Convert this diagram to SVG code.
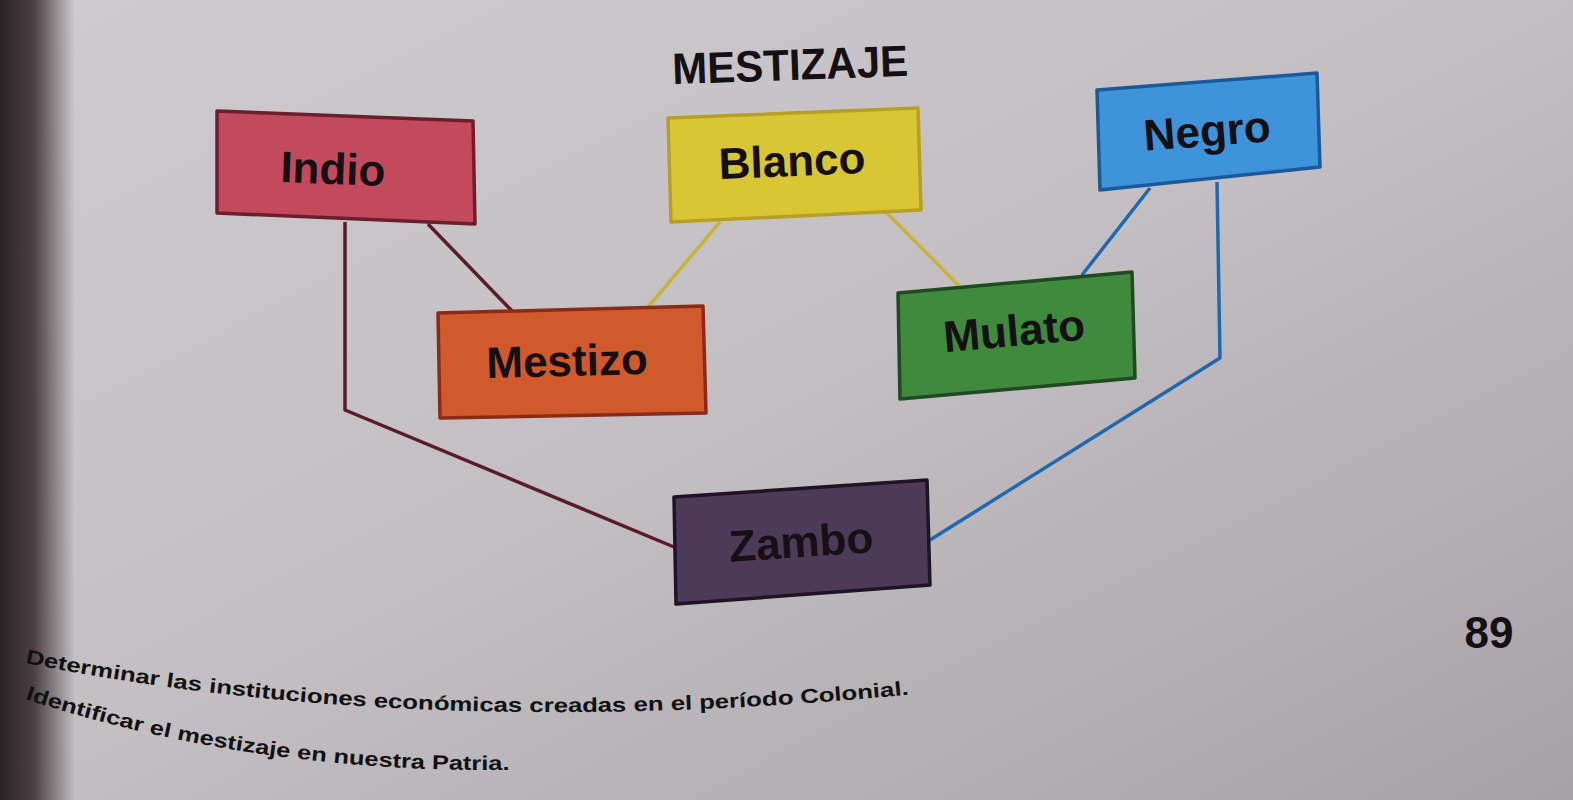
<svg xmlns="http://www.w3.org/2000/svg" width="1573" height="800" viewBox="0 0 1573 800">
<defs>
<linearGradient id="bg" x1="0" y1="0" x2="1" y2="1">
<stop offset="0" stop-color="#cfcccf"/>
<stop offset="0.5" stop-color="#c2bec1"/>
<stop offset="1" stop-color="#a7a2a5"/>
</linearGradient>
<linearGradient id="spine" x1="0" y1="0" x2="1" y2="0">
<stop offset="0" stop-color="#2a2325"/>
<stop offset="0.45" stop-color="#4a4044"/>
<stop offset="1" stop-color="#4a4044" stop-opacity="0"/>
</linearGradient>
<path id="l1" d="M 25 663 Q 420 742 915 694"/>
<path id="l2" d="M 25 699 Q 250 773 515 770"/>
</defs>
<style>
.box{stroke-width:3.5;stroke-linejoin:round}
.lbl{font-family:"Liberation Sans",Arial,sans-serif;font-weight:bold;font-size:44px;fill:#141014;text-anchor:middle}
.con{fill:none;stroke-width:3.5;stroke-linejoin:round}
.foot{font-family:"Liberation Sans",Arial,sans-serif;font-weight:bold;font-size:20px;fill:#111}
</style>
<rect width="1573" height="800" fill="url(#bg)"/>
<rect x="0" y="0" width="75" height="800" fill="url(#spine)"/>
<text x="790" y="80" class="lbl" font-size="48" textLength="236" lengthAdjust="spacingAndGlyphs" transform="rotate(-2 790 62)">MESTIZAJE</text>
<g id="connectors">
<path class="con" stroke="#5c1b2a" d="M428 224 L513 312"/>
<path class="con" stroke="#c9b43a" d="M720 222 L648 307"/>
<path class="con" stroke="#c9b43a" d="M886 212 L963 290"/>
<path class="con" stroke="#1e6ab0" d="M1150 188 L1082 275"/>
<path class="con" stroke="#5c1b2a" d="M345 222 L345 410 L674 547"/>
<path class="con" stroke="#1e6ab0" d="M1217 182 L1220 358 L930 540"/>
</g>
<g id="indio">
<polygon class="box" fill="#c24a5c" stroke="#6a1f2d" points="217,111 473,121 475,224 217,213"/>
<text class="lbl" x="333" y="184" transform="rotate(2.2 333 168)">Indio</text>
</g>
<g id="blanco">
<polygon class="box" fill="#d9c634" stroke="#b89f24" points="668,118 918,108 921,210 671,222"/>
<text class="lbl" x="792" y="176" font-size="42" transform="rotate(-2.3 792 160)">Blanco</text>
</g>
<g id="negro">
<polygon class="box" fill="#3f93d9" stroke="#1a5a9a" points="1097,90 1317,73 1320,167 1100,190"/>
<text class="lbl" x="1207" y="146" font-size="42" transform="rotate(-4.4 1207 130)">Negro</text>
</g>
<g id="mestizo">
<polygon class="box" fill="#d15a2c" stroke="#8c2a18" points="438,313 703,306 706,413 440,418"/>
<text class="lbl" x="567" y="376" transform="rotate(-1.5 567 360)">Mestizo</text>
</g>
<g id="mulato">
<polygon class="box" fill="#3f8a3c" stroke="#1f4a22" points="898,293 1132,272 1135,378 900,399"/>
<text class="lbl" x="1014" y="346" font-size="42" transform="rotate(-5.1 1014 330)">Mulato</text>
</g>
<g id="zambo">
<polygon class="box" fill="#4d3a58" stroke="#1e1424" points="674,497 927,480 930,585 676,604"/>
<text class="lbl" x="801" y="557" transform="rotate(-3.8 801 541)">Zambo</text>
</g>
<text x="1489" y="648" class="lbl" font-size="42">89</text>
<text class="foot"><textPath href="#l1" textLength="888" lengthAdjust="spacingAndGlyphs">Determinar las instituciones económicas creadas en el período Colonial.</textPath></text>
<text class="foot"><textPath href="#l2" textLength="492" lengthAdjust="spacingAndGlyphs">Identificar el mestizaje en nuestra Patria.</textPath></text>
</svg>
